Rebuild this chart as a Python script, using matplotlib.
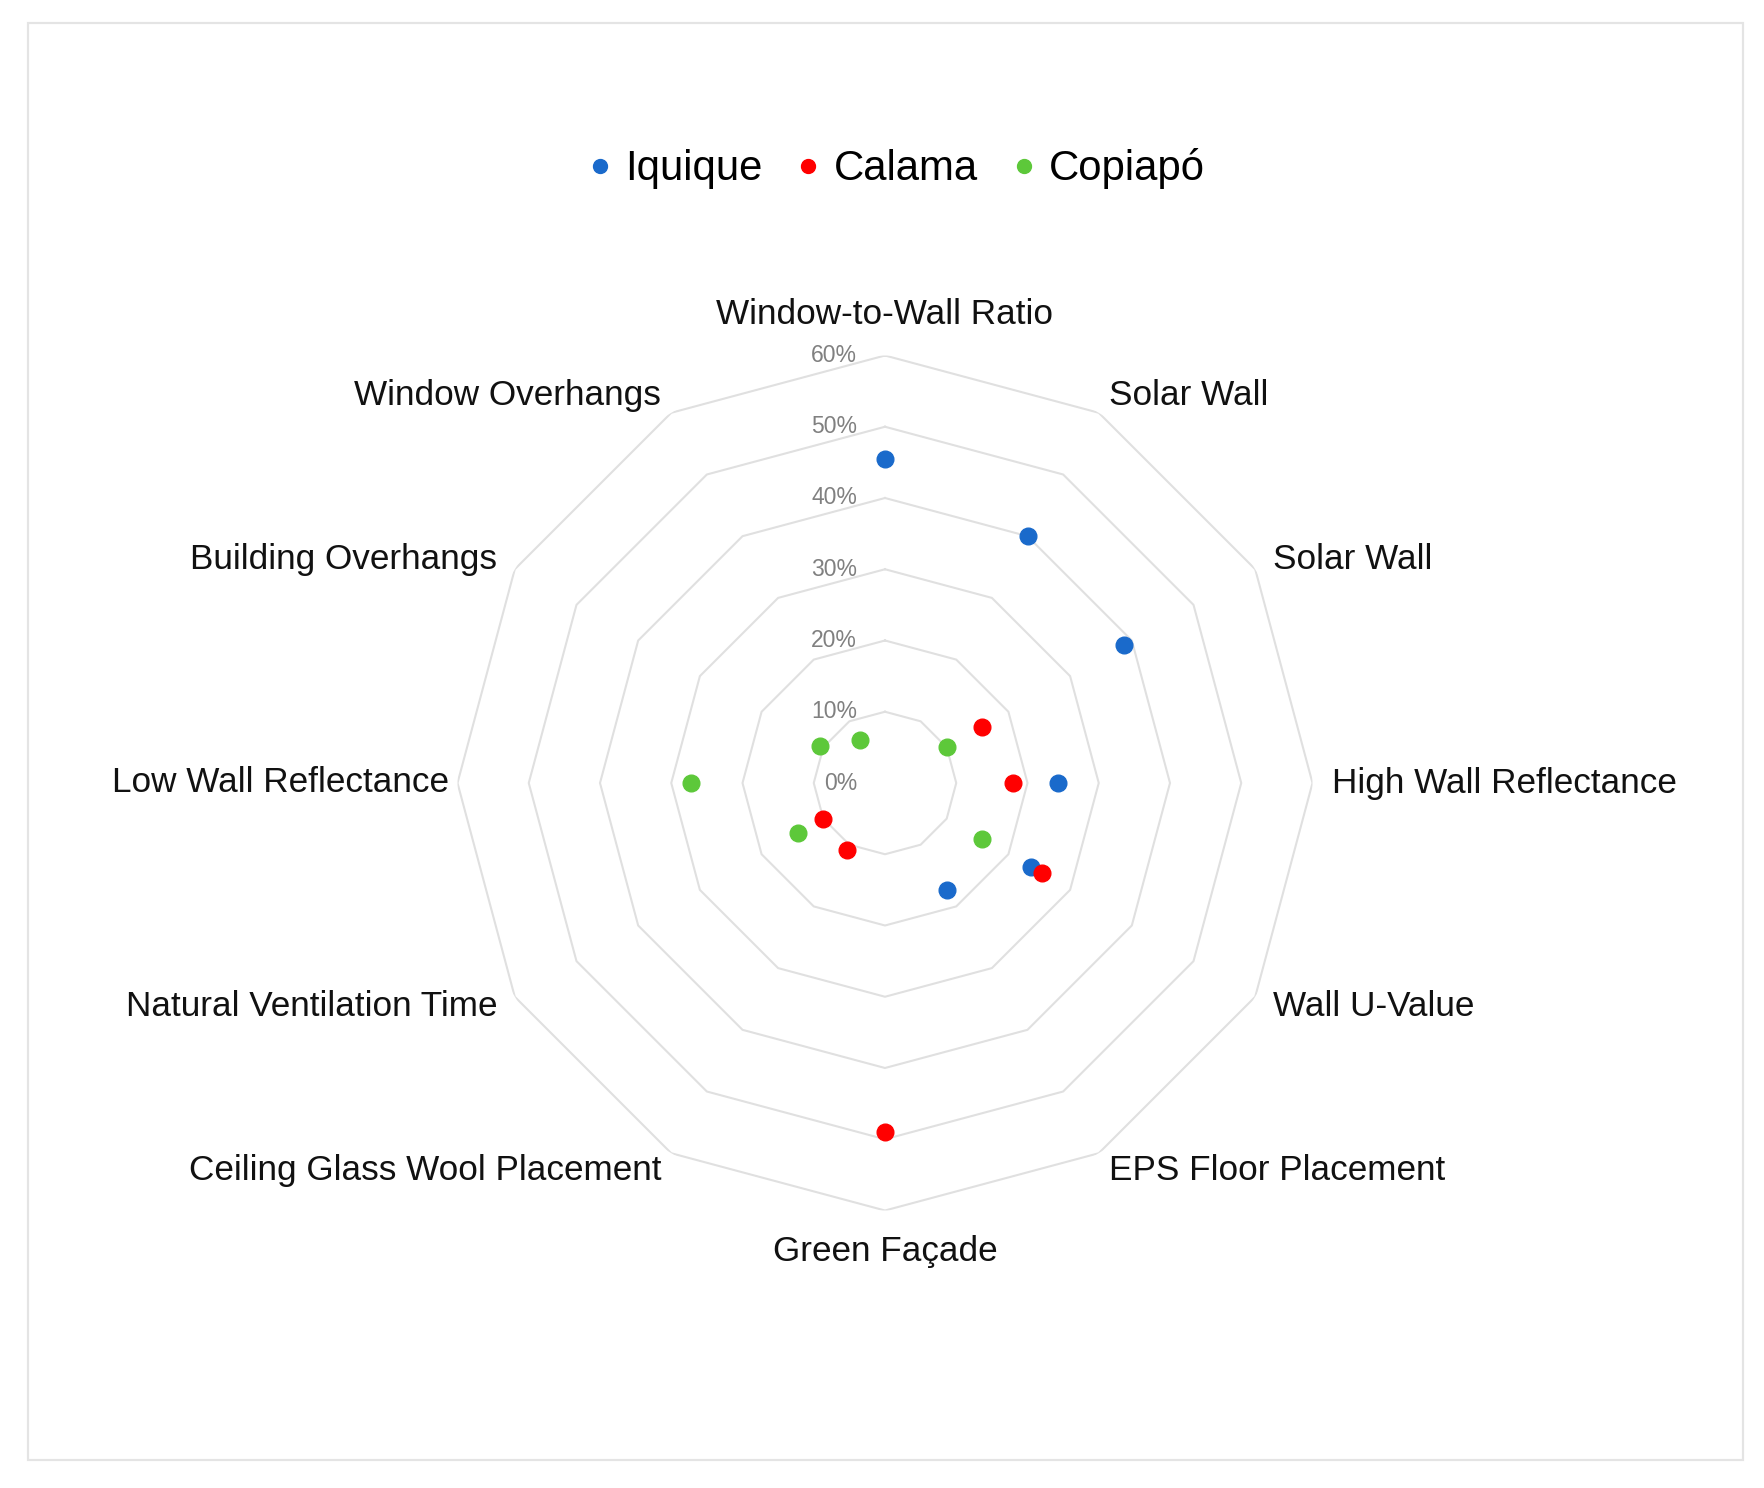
import matplotlib
matplotlib.use("Agg")
import matplotlib.pyplot as plt
import numpy as np
from matplotlib.lines import Line2D
from matplotlib.patches import Rectangle

# Radar axes, clockwise from the top
categories = ["Window-to-Wall Ratio", "Solar Wall", "Solar Wall",
              "High Wall Reflectance", "Wall U-Value", "EPS Floor Placement",
              "Green Façade", "Ceiling Glass Wool Placement",
              "Natural Ventilation Time", "Low Wall Reflectance",
              "Building Overhangs", "Window Overhangs"]

# Values in percent (nan = no marker shown)
nan = np.nan
iquique = [45.5, 40.0, 38.8, 24.3, 23.7, 17.4, nan, nan, nan, nan, nan, nan]
calama = [nan, nan, 15.8, 18.0, 25.4, nan, 49.0, 10.8, 10.0, nan, nan, nan]
copiapo = [nan, nan, 10.0, nan, 15.8, nan, nan, nan, 14.1, 27.2, 10.5, 6.9]

series_names = ["Iquique", "Calama", "Copiapó"]
series_colors = ["#1a6acb", "#ff0000", "#5dc83a"]

ring_values = [0, 10, 20, 30, 40, 50, 60]
ring_labels = ["0%", "10%", "20%", "30%", "40%", "50%", "60%"]

plt.rcParams["font.family"] = ["Liberation Sans", "DejaVu Sans"]

W, H = 1764, 1488
fig = plt.figure(figsize=(W / 100, H / 100), dpi=100)

# Light frame around the whole picture
fig.patches.append(Rectangle((28 / W, 1 - 1460 / H), (1743 - 28) / W,
                             (1460 - 22.5) / H, transform=fig.transFigure,
                             fill=False, edgecolor="#e4e4e4", linewidth=1.6))

# Polar axes: centre at (885, 783) px, 60% ring radius 427.5 px
cx, cy, rad = 885, 783, 427.5
ax = fig.add_axes([(cx - rad) / W, (H - cy - rad) / H, 2 * rad / W, 2 * rad / H],
                  projection="polar")
ax.set_theta_zero_location("N")
ax.set_theta_direction(-1)
ax.set_ylim(0, 60)
ax.grid(False)
ax.spines["polar"].set_visible(False)
ax.set_xticks([])
ax.set_yticks([])
ax.patch.set_alpha(0)

n = len(categories)
theta = np.arange(n) * 2 * np.pi / n
theta_closed = np.append(theta, theta[0])

# Polygon grid rings
for r in ring_values[1:]:
    ax.plot(theta_closed, [r] * (n + 1), color="#e0e0e0", linewidth=1.5,
            zorder=1)

# Ring value labels along the top spoke
for r, lab in zip(ring_values, ring_labels):
    ax.annotate(lab, xy=(0, r), xytext=(-28, 0), textcoords="offset pixels",
                ha="right", va="center", fontsize=16.5, color="#808080")

# Category labels just outside the 60% ring
for t, name in zip(theta, categories):
    s, c = np.sin(t), np.cos(t)
    if abs(s) < 1e-6:
        off = (0, 41 * c)
        ha = "center"
    else:
        dist = 9 if s < -0.999 else 20
        off = (dist * s, 20 * c)
        ha = "left" if s > 0 else "right"
    ax.annotate(name, xy=(t, 60), xytext=off, textcoords="offset pixels",
                ha=ha, va="center", fontsize=25.3, color="#111111")

# Data markers
for vals, color in zip([iquique, calama, copiapo], series_colors):
    ax.plot(theta, vals, marker="o", linestyle="none", markersize=12,
            color=color, zorder=3, clip_on=False)

# Legend at the top
handles = [Line2D([], [], marker="o", linestyle="none", color=c, markersize=10)
           for c in series_colors]
fig.legend(handles, series_names, loc="center", bbox_to_anchor=(0.508, 0.8865),
           ncol=3, frameon=False, fontsize=30.2, handlelength=0.6,
           handletextpad=0.3, columnspacing=0.8)

fig.savefig("out.png", dpi=100, facecolor="white")
